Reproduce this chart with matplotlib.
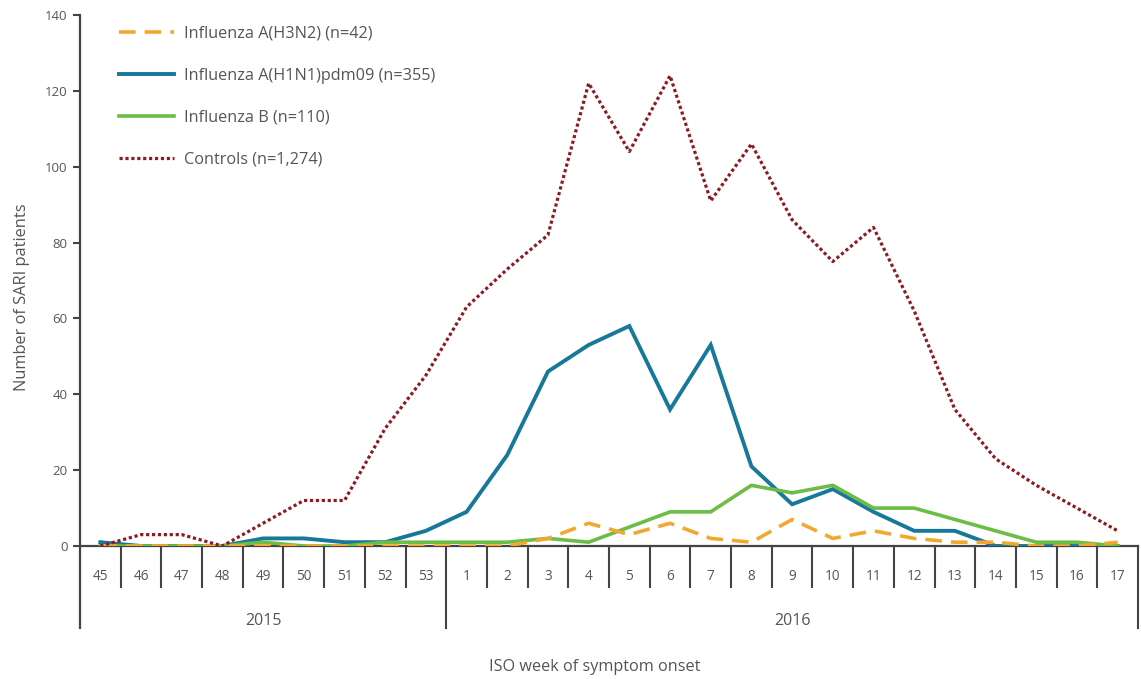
import matplotlib
matplotlib.use("Agg")
import matplotlib.pyplot as plt

weeks = ["45", "46", "47", "48", "49", "50", "51", "52", "53",
         "1", "2", "3", "4", "5", "6", "7", "8", "9", "10", "11", "12", "13", "14", "15", "16", "17"]
years = ["2015", "2016"]
weeks_per_year = [9, 17]

h3n2 = [0, 0, 0, 0, 0, 0, 0, 0, 0, 0, 0, 2, 6, 3, 6, 2, 1, 7, 2, 4, 2, 1, 1, 0, 0, 1]
h1n1 = [1, 0, 0, 0, 2, 2, 1, 1, 4, 9, 24, 46, 53, 58, 36, 53, 21, 11, 15, 9, 4, 4, 0, 0, 0, 0]
flu_b = [0, 0, 0, 0, 1, 0, 0, 1, 1, 1, 1, 2, 1, 5, 9, 9, 16, 14, 16, 10, 10, 7, 4, 1, 1, 0]
controls = [0, 3, 3, 0, 6, 12, 12, 31, 45, 63, 73, 82, 122, 104, 124, 91, 106, 86, 75, 84, 62, 36, 23, 16, 10, 4]

labels = ["Influenza A(H3N2) (n=42)", "Influenza A(H1N1)pdm09 (n=355)",
          "Influenza B (n=110)", "Controls (n=1,274)"]
yticks = [0, 20, 40, 60, 80, 100, 120, 140]

plt.rcParams['font.family'] = ['Open Sans', 'DejaVu Sans']
TXT = '#555555'
AX = '#444444'

W, H = 1141, 679
fig = plt.figure(figsize=(W / 100, H / 100), dpi=100)
left, right, y0, ytop = 80, 1138, 546, 15
ax = fig.add_axes([left / W, (H - y0) / H, (right - left) / W, (y0 - ytop) / H])
axh = y0 - ytop

x = list(range(len(weeks)))
l2, = ax.plot(x, h1n1, color='#17789A', lw=2.8, solid_joinstyle='miter', zorder=3)
l3, = ax.plot(x, flu_b, color='#6CBD45', lw=2.6, zorder=4)
l1, = ax.plot(x, h3n2, color='#F2A830', lw=2.6, linestyle=(0, (4.6, 2.5)), zorder=5)
l4, = ax.plot(x, controls, color='#8B1C24', lw=2.3, linestyle=(0, (1.0, 0.85)), zorder=6)

ax.set_xlim(-0.5, len(weeks) - 0.5)
ax.set_ylim(0, 140)
ax.set_yticks(yticks)
ax.tick_params(axis='y', direction='out', length=5, width=1.5, color=AX,
               labelsize=9.5, labelcolor=TXT, pad=4)
ax.set_xticks([])
for s in ['top', 'right', 'left']:
    ax.spines[s].set_visible(False)
ax.spines['bottom'].set_color(AX)
ax.spines['bottom'].set_linewidth(1.6)

tr = ax.get_xaxis_transform()
short_b = -(587 - y0) / axh
long_b = -(628 - y0) / axh
# left axis line
ax.plot([-0.5, -0.5], [long_b, 1.0], transform=tr, color=AX, lw=1.6, clip_on=False, zorder=7)
# separators
boundaries = []
acc = 0
for n in weeks_per_year:
    acc += n
    boundaries.append(acc)
for i in range(1, len(weeks) + 1):
    bottom = long_b if i in boundaries else short_b
    ax.plot([i - 0.5, i - 0.5], [0, bottom], transform=tr, color=AX, lw=1.5, clip_on=False)
# week labels
for i, w in enumerate(weeks):
    ax.text(i, -(577 - y0) / axh, w, transform=tr, ha='center', va='center',
            fontsize=9.8, color=TXT)
# year labels
start = 0
for yr, n in zip(years, weeks_per_year):
    ax.text(start + n / 2 - 0.5, -(621 - y0) / axh, yr, transform=tr, ha='center',
            va='center', fontsize=11.5, color=TXT)
    start += n

fig.text(595 / W, 1 - 667 / H, "ISO week of symptom onset", ha='center', va='center',
         fontsize=11.7, color=TXT)
fig.text(22 / W, 1 - 297 / H, "Number of SARI patients", ha='center', va='center',
         rotation=90, fontsize=11.8, color=TXT)

leg = ax.legend([l1, l2, l3, l4], labels, loc='upper left',
                bbox_to_anchor=((119 - left) / (right - left), 1 - (26 - ytop) / axh),
                frameon=False, fontsize=11.7, handlelength=3.4, handletextpad=0.6,
                labelspacing=1.6, borderaxespad=0, borderpad=0)
for t in leg.get_texts():
    t.set_color(TXT)

fig.savefig("out.png", dpi=100)
